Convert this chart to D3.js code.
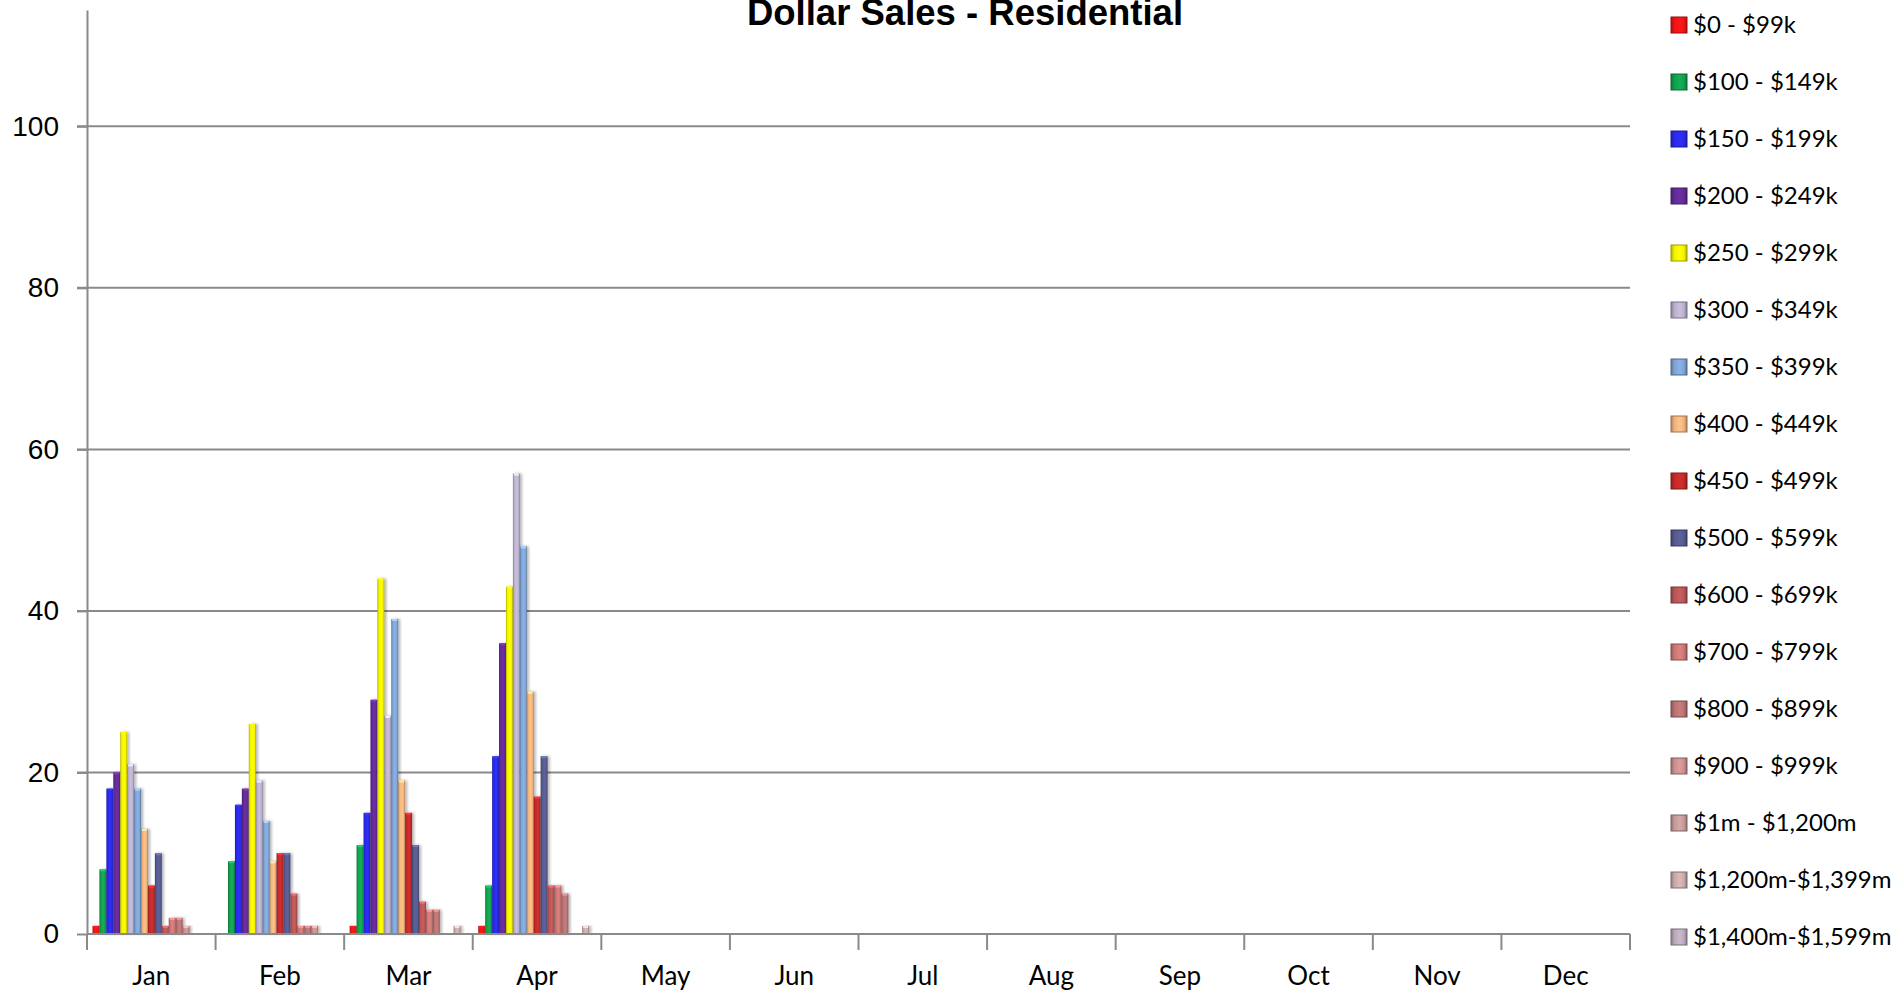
<!DOCTYPE html>
<html>
<head>
<meta charset="utf-8">
<script src="https://cdn.jsdelivr.net/npm/d3@7/dist/d3.min.js"></script>
<style>
  body { margin: 0; background: #fff; }
  svg { display: block; }
</style>
</head>
<body>
<script>
// months on the x axis
var months = ["Jan","Feb","Mar","Apr","May","Jun","Jul","Aug","Sep","Oct","Nov","Dec"];
// price ranges (series)
var ranges = ["$0 - $99k","$100 - $149k","$150 - $199k","$200 - $249k","$250 - $299k",
  "$300 - $349k","$350 - $399k","$400 - $449k","$450 - $499k","$500 - $599k",
  "$600 - $699k","$700 - $799k","$800 - $899k","$900 - $999k","$1m - $1,200m",
  "$1,200m-$1,399m","$1,400m-$1,599m"];
var colors = ["#ee1515","#11a04e","#2a2ae6","#632b96","#f2f200","#b9b0cc","#7ea4d4",
  "#f0b27c","#c22a2a","#565a8e","#b95555","#cc7676","#b97272","#c98f8f","#c49a9a",
  "#c8a9a9","#b9a9b9"];
// sales count per range, one array per month with data
var jan = [1,8,18,20,25,21,18,13,6,10,1,2,2,1,0,0,0];
var feb = [0,9,16,18,26,19,14,9,10,10,5,1,1,1,0,0,0];
var mar = [1,11,15,29,44,27,39,19,15,11,4,3,3,0,0,1,0];
var apr = [1,6,22,36,43,57,48,30,17,22,6,6,5,0,0,1,0];
var monthData = [jan, feb, mar, apr];
var yTicks = [0,20,40,60,80,100];
var yMax = 114.4;

var width = 1897, height = 992;
var plotLeft = 87, plotRight = 1630, plotTop = 10, plotBottom = 934;

var svg = d3.select("body").append("svg")
  .attr("width", width).attr("height", height);

var defs = svg.append("defs");
var shadow = defs.append("filter").attr("id","shd")
  .attr("x","-50%").attr("y","-10%").attr("width","200%").attr("height","120%");
shadow.append("feDropShadow").attr("dx",2).attr("dy",0).attr("stdDeviation",1.5)
  .attr("flood-color","#000").attr("flood-opacity",0.3);

colors.forEach(function(c, i){
  var g = defs.append("linearGradient").attr("id","g"+i)
    .attr("x1","0").attr("x2","1").attr("y1","0").attr("y2","0");
  var base = d3.color(c);
  g.append("stop").attr("offset","0%").attr("stop-color", base.darker(0.9));
  g.append("stop").attr("offset","22%").attr("stop-color", base);
  g.append("stop").attr("offset","55%").attr("stop-color", base.brighter(0.25));
  g.append("stop").attr("offset","82%").attr("stop-color", base);
  g.append("stop").attr("offset","100%").attr("stop-color", base.darker(1.0));
});

var x0 = d3.scaleBand().domain(months).range([plotLeft, plotRight]).padding(0);
var x1 = d3.scaleBand().domain(ranges).range([5.5, 123.3]).padding(0);
var y = d3.scaleLinear().domain([0, yMax]).range([plotBottom, plotTop]);

// gridlines
svg.append("g").selectAll("line").data(yTicks.filter(function(d){ return d > 0; }))
  .enter().append("line")
  .attr("x1", plotLeft - 10).attr("x2", plotRight)
  .attr("y1", function(d){ return y(d); }).attr("y2", function(d){ return y(d); })
  .attr("stroke","#8a8a8a").attr("stroke-width",2);

// y axis
var yAxis = svg.append("g").attr("transform","translate(" + plotLeft + ",0)")
  .call(d3.axisLeft(y).tickValues(yTicks).tickSize(10).tickPadding(18).tickSizeOuter(0));
yAxis.select(".domain").attr("stroke","#8a8a8a").attr("stroke-width",2);
yAxis.selectAll(".tick line").attr("stroke","#8a8a8a").attr("stroke-width",2);
yAxis.selectAll("text").attr("font-family","Liberation Sans, Arial, sans-serif")
  .attr("font-size",28).attr("fill","#000");

// bars
var groups = svg.append("g").selectAll("g").data(monthData).enter().append("g")
  .attr("transform", function(d,i){ return "translate(" + x0(months[i]) + ",0)"; });

var bars = groups.selectAll("g.bar")
  .data(function(d){ return d.map(function(v,j){ return {v:v, j:j}; }).filter(function(e){ return e.v > 0; }); })
  .enter().append("g").attr("class","bar");

bars.append("rect")
  .attr("x", function(d){ return x1(ranges[d.j]); })
  .attr("y", function(d){ return y(d.v); })
  .attr("width", x1.bandwidth())
  .attr("height", function(d){ return plotBottom - y(d.v); })
  .attr("fill", function(d){ return "url(#g" + d.j + ")"; })
  .attr("filter","url(#shd)");

bars.append("rect")
  .attr("x", function(d){ return x1(ranges[d.j]) + 1; })
  .attr("y", function(d){ return y(d.v); })
  .attr("width", x1.bandwidth() - 2)
  .attr("height", 2)
  .attr("fill", function(d){ return d3.color(colors[d.j]).brighter(0.8); });

// x axis
var xAxis = svg.append("g").attr("transform","translate(0," + plotBottom + ")");
xAxis.append("line").attr("x1", plotLeft).attr("x2", plotRight)
  .attr("stroke","#8a8a8a").attr("stroke-width",2);
xAxis.selectAll("line.tk").data(months.concat(["end"])).enter().append("line")
  .attr("class","tk")
  .attr("x1", function(d){ return d === "end" ? plotRight : x0(d); })
  .attr("x2", function(d){ return d === "end" ? plotRight : x0(d); })
  .attr("y1", 0).attr("y2", 16)
  .attr("stroke","#8a8a8a").attr("stroke-width",2);
xAxis.selectAll("text").data(months).enter().append("text")
  .attr("x", function(d){ return x0(d) + x0.bandwidth()/2; })
  .attr("y", 51)
  .attr("text-anchor","middle")
  .attr("font-family","Lato, sans-serif").attr("font-size",26).attr("fill","#000")
  .text(function(d){ return d; });

// title (cut at the top edge like the source)
svg.append("text").attr("x", 965).attr("y", 25).attr("text-anchor","middle")
  .attr("font-family","Liberation Sans, Arial, sans-serif").attr("font-weight","bold")
  .attr("font-size",36.5).attr("fill","#000")
  .text("Dollar Sales - Residential");

// legend
var legend = svg.append("g").selectAll("g").data(ranges).enter().append("g")
  .attr("transform", function(d,i){ return "translate(1671," + (25 + i*57) + ")"; });
legend.append("rect").attr("x",0).attr("y",-8).attr("width",16).attr("height",16)
  .attr("fill", function(d,i){ return "url(#g" + i + ")"; })
  .attr("stroke", function(d,i){ return d3.color(colors[i]).darker(1.2); }).attr("stroke-width",1);
legend.append("text").attr("x",22).attr("y",0).attr("dy","0.35em")
  .attr("font-family","Lato, sans-serif").attr("font-size",24).attr("fill","#000")
  .text(function(d){ return d; });
</script>
</body>
</html>
